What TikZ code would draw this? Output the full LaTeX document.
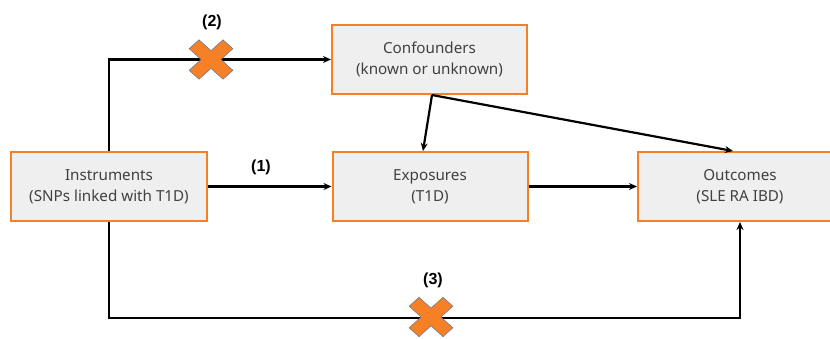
\documentclass[tikz,border=0pt]{standalone}
\usepackage{fontspec}
\setmainfont{Noto Sans}
\newfontfamily\lblfont{Liberation Sans}
\usetikzlibrary{arrows.meta,calc}
\definecolor{boxorange}{RGB}{247,128,36}
\definecolor{boxfill}{RGB}{239,239,239}
\definecolor{boxtext}{RGB}{64,64,64}
\definecolor{crossfill}{RGB}{245,128,38}
\definecolor{crossline}{RGB}{95,120,160}
\tikzset{
  box/.style={draw=boxorange, line width=2pt, fill=boxfill, text=boxtext,
    minimum width=195pt, minimum height=69pt, inner sep=0pt, align=center,
    font=\fontsize{15.2}{21}\selectfont},
  conn/.style={line width=2.2pt, -{Stealth[length=8pt,width=7pt]}, black},
  lbl/.style={font=\lblfont\bfseries\fontsize{16}{18}\selectfont, inner sep=0pt},
  crossmark/.pic={
    \draw[fill=crossfill, draw=crossline, line width=0.5pt, yscale=0.9]
      (0,9.9) -- (12,21.9) -- (21.9,12) -- (9.9,0) -- (21.9,-12) -- (12,-21.9)
      -- (0,-9.9) -- (-12,-21.9) -- (-21.9,-12) -- (-9.9,0) -- (-21.9,12)
      -- (-12,21.9) -- cycle;
  }
}
\begin{document}
\begin{tikzpicture}[x=1pt,y=1pt]
\useasboundingbox (0,0) rectangle (830,-338);
\clip (0,0) rectangle (830,-338);
\fill[white] (0,0) rectangle (830,-338);
\node[box, minimum width=196pt] (inst) at (109,-186.5) {Instruments\\(SNPs linked with T1D)};
\node[box] (expo) at (430,-186.5) {Exposures\\(T1D)};
\node[box] (conf) at (429.5,-59.5) {Confounders\\(known or unknown)};
\node[box, minimum width=204pt] (outc) at (740,-186.5) {Outcomes\\(SLE RA IBD)};
% (2)
\draw[conn] (inst.north) |- (conf.west);
% (1)
\draw[conn] (inst.east) -- (expo.west);
% exposures -> outcomes
\draw[conn] (expo.east) -- (outc.west);
% confounders -> exposures / outcomes
\coordinate (cs) at ($(conf.south)+(2.5,0)$);
\draw[conn] (cs) -- ($(expo.north)+(-7,0)$);
\draw[conn] (cs) -- ($(outc.north)+(-7,0)$);
% (3)
\draw[conn] (inst.south) -- ++(0,-96) -| (outc.south);
% crosses
\pic at (211,-59.5) {crossmark};
\pic at (431,-317) {crossmark};
% labels
\node[lbl] (l2) at (212,-22) {(2)};
\node[lbl] (l1) at (261,-167) {(1)};
\node[lbl] (l3) at (433,-280) {(3)};
\end{tikzpicture}
\end{document}
